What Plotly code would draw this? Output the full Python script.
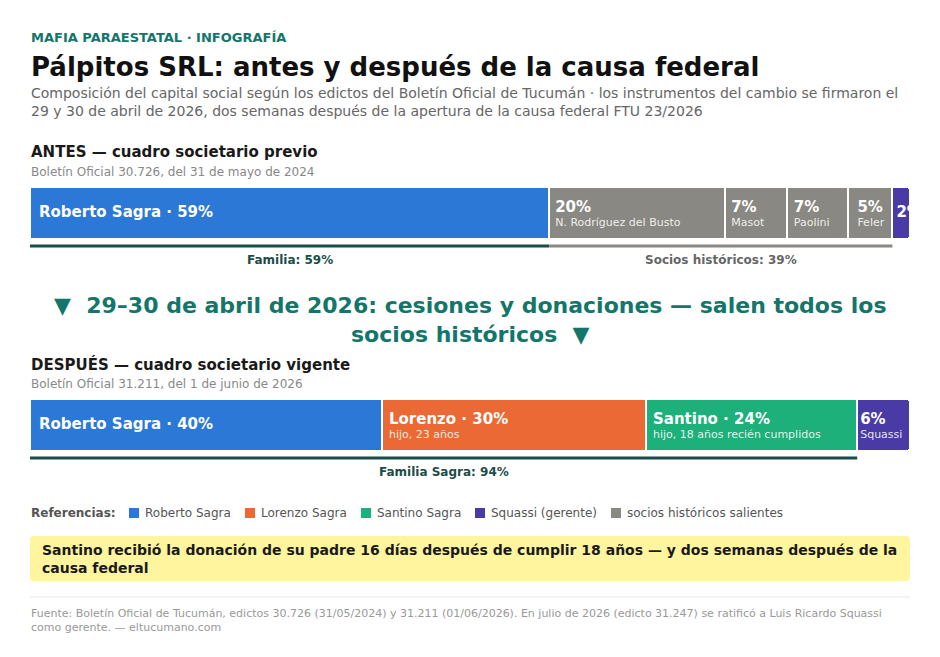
import plotly.graph_objects as go

# ---- data -------------------------------------------------------------
antes_names = ["Roberto Sagra", "N. Rodríguez del Busto", "Masot", "Paolini", "Feler", "Squassi"]
antes_values = [59, 20, 7, 7, 5, 2]
antes_roles = ["roberto", "historico", "historico", "historico", "historico", "squassi"]
antes_main = ["Roberto Sagra · 59%", "20%", "7%", "7%", "5%", "2%"]
antes_sub = ["", "N. Rodríguez del Busto", "Masot", "Paolini", "Feler", ""]

despues_names = ["Roberto Sagra", "Lorenzo Sagra", "Santino Sagra", "Squassi"]
despues_values = [40, 30, 24, 6]
despues_roles = ["roberto", "lorenzo", "santino", "squassi"]
despues_main = ["Roberto Sagra · 40%", "Lorenzo · 30%", "Santino · 24%", "6%"]
despues_sub = ["", "hijo, 23 años", "hijo, 18 años recién cumplidos", "Squassi"]

antes_groups = [("Familia: 59%", 0, 59), ("Socios históricos: 39%", 59, 98)]
despues_groups = [("Familia Sagra: 94%", 0, 94)]

legend_roles = ["roberto", "lorenzo", "santino", "squassi", "historico"]
legend_labels = ["Roberto Sagra", "Lorenzo Sagra", "Santino Sagra", "Squassi (gerente)",
                 "socios históricos salientes"]

# ---- styles -----------------------------------------------------------
W, H = 940, 657
OFF = 8  # page margin around the plot div
X0, X1 = 30, 910
FONT = "DejaVu Sans"
COLORS = {
    "roberto": "#2b78d6",
    "lorenzo": "#ea6935",
    "santino": "#1db07b",
    "squassi": "#4a3aa6",
    "historico": "#8a8882",
}
TEAL = "#12766a"
DARK_TEAL = "#1b4d47"
antes_pad = [9, 6, 6, 7, 9, 4]
despues_pad = [9, 7, 7, 3]
group_colors = {"Familia: 59%": DARK_TEAL, "Socios históricos: 39%": "#8a8882",
                "Familia Sagra: 94%": DARK_TEAL}
group_text = {"Familia: 59%": DARK_TEAL, "Socios históricos: 39%": "#666666",
              "Familia Sagra: 94%": DARK_TEAL}


def px(p):
    return (p - OFF) / W


def py(p):
    return 1 - (p - OFF) / H


def px_units(p):
    return p / (X1 - X0) * 100


fig = go.Figure()


def add_bar(values, roles, names, main, sub, pads, xa, ya):
    for v, r, n in zip(values, roles, names):
        fig.add_trace(go.Bar(
            x=[v], y=[0], orientation="h", width=1,
            marker=dict(color=COLORS[r], line=dict(color="white", width=2)),
            name=n, xaxis=xa, yaxis=ya, showlegend=False, hoverinfo="name+x",
        ))
    starts, base = [], 0
    for v in values:
        starts.append(base)
        base += v
    for s, m, sb, p in zip(starts, main, sub, pads):
        x = s + px_units(p)
        main_y = 0.10 if sb else 0
        fig.add_trace(go.Scatter(
            x=[x], y=[main_y], mode="text", text=[m], textposition="middle right",
            textfont=dict(family=FONT, size=15, color="white", weight="bold"),
            xaxis=xa, yaxis=ya, showlegend=False, hoverinfo="skip", cliponaxis=True))
        if sb:
            fig.add_trace(go.Scatter(
                x=[x], y=[-0.195], mode="text", text=[sb], textposition="middle right",
                textfont=dict(family=FONT, size=11, color="rgba(255,255,255,0.88)"),
                xaxis=xa, yaxis=ya, showlegend=False, hoverinfo="skip", cliponaxis=True))


add_bar(antes_values, antes_roles, antes_names, antes_main, antes_sub, antes_pad, "x", "y")
add_bar(despues_values, despues_roles, despues_names, despues_main, despues_sub, despues_pad,
        "x2", "y2")

shapes = []
annotations = []


def text(x, y, t, size, color, bold=False, xanchor="left", xref="paper", align="left"):
    annotations.append(dict(
        x=x, y=y, xref=xref, yref="paper", text=f"<b>{t}</b>" if bold else t,
        showarrow=False, xanchor=xanchor, yanchor="middle", align=align, borderpad=0,
        font=dict(family=FONT, size=size, color=color)))


def groups(gs, xref, line_px, label_px):
    for label, a, b in gs:
        shapes.append(dict(type="line", xref=xref, yref="paper", x0=a, x1=b,
                           y0=py(line_px), y1=py(line_px),
                           line=dict(color=group_colors[label], width=3)))
        text((a + b) / 2, py(label_px), label, 12, group_text[label], bold=True,
             xanchor="center", xref=xref)


groups(antes_groups, "x", 246, 260)
groups(despues_groups, "x2", 458, 472)

px0 = px(X0)
text(px0, py(37), "MAFIA PARAESTATAL · INFOGRAFÍA", 13, TEAL, bold=True)
text(px0, py(67), "Pálpitos SRL: antes y después de la causa federal", 26, "#111111", bold=True)
text(px0, py(102),
     "Composición del capital social según los edictos del Boletín Oficial de Tucumán · "
     "los instrumentos del cambio se firmaron el<br>29 y 30 de abril de 2026, dos semanas "
     "después de la apertura de la causa federal FTU 23/2026", 14, "#666666")
text(px0, py(152), "ANTES — cuadro societario previo", 15, "#1a1a1a", bold=True)
text(px0, py(172), "Boletín Oficial 30.726, del 31 de mayo de 2024", 12, "#888888")
text(px(470), py(320), "▼  29–30 de abril de 2026: cesiones y donaciones — salen todos los<br>"
     "socios históricos  ▼", 22, TEAL, bold=True, xanchor="center", align="center")
text(px0, py(364), "DESPUÉS — cuadro societario vigente", 15, "#1a1a1a", bold=True)
text(px0, py(384), "Boletín Oficial 31.211, del 1 de junio de 2026", 12, "#888888")

# legend row
text(px0, py(513), "Referencias:", 12, "#555555", bold=True)
legend_x = [129, 245, 361, 475, 611]
for r, lab, lx in zip(legend_roles, legend_labels, legend_x):
    shapes.append(dict(type="rect", xref="paper", yref="paper",
                       x0=px(lx), x1=px(lx + 10), y0=py(518), y1=py(508),
                       fillcolor=COLORS[r], line=dict(width=0)))
    text(px(lx + 15), py(513), lab, 12, "#555555")

# highlight box
r = 4
bx0, bx1, by0, by1 = px(X0), px(X1), py(581), py(536)
rx, ry = r / W, r / H
shapes.append(dict(
    type="path", xref="paper", yref="paper", fillcolor="#fff59f", line=dict(width=0),
    path=(f"M{bx0 + rx},{by0} L{bx1 - rx},{by0} Q{bx1},{by0} {bx1},{by0 + ry} "
          f"L{bx1},{by1 - ry} Q{bx1},{by1} {bx1 - rx},{by1} L{bx0 + rx},{by1} "
          f"Q{bx0},{by1} {bx0},{by1 - ry} L{bx0},{by0 + ry} Q{bx0},{by0} {bx0 + rx},{by0} Z"),
    layer="below"))
text(px(41), py(559),
     "Santino recibió la donación de su padre 16 días después de cumplir 18 años — y dos "
     "semanas después de la<br>causa federal", 14, "#1a1a1a", bold=True)

shapes.append(dict(type="line", xref="paper", yref="paper", x0=px(X0), x1=px(X1),
                   y0=py(597), y1=py(597), line=dict(color="#e6e6e6", width=1)))
text(px0, py(620),
     "Fuente: Boletín Oficial de Tucumán, edictos 30.726 (31/05/2024) y 31.211 (01/06/2026). "
     "En julio de 2026 (edicto 31.247) se ratificó a Luis Ricardo Squassi<br>como gerente. — "
     "eltucumano.com", 11, "#999999")

axis_x = dict(domain=[px(X0), px(X1)], range=[0, 100], visible=False, fixedrange=True)
fig.update_layout(
    width=W, height=H, margin=dict(l=0, r=0, t=0, b=0),
    paper_bgcolor="white", plot_bgcolor="white",
    barmode="stack", barcornerradius=4,
    xaxis=axis_x, xaxis2=dict(axis_x, anchor="y2"),
    yaxis=dict(domain=[py(239), py(187)], range=[-0.5, 0.5], visible=False, fixedrange=True),
    yaxis2=dict(domain=[py(451), py(399)], range=[-0.5, 0.5], visible=False, fixedrange=True,
                anchor="x2"),
    shapes=shapes, annotations=annotations, showlegend=False,
    font=dict(family=FONT),
)
fig.write_html("out.html")
